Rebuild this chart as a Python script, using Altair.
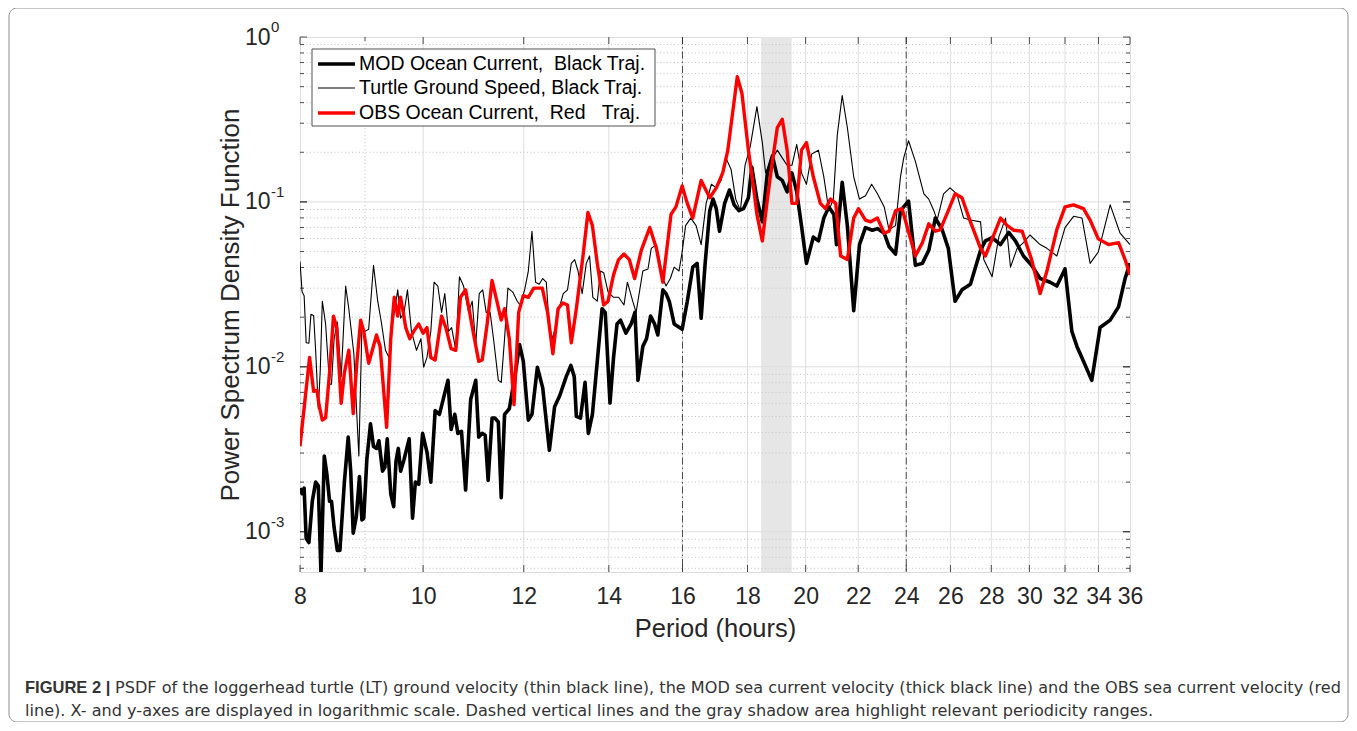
import altair as alt
import pandas as pd

# ---------------- data ----------------
red_period = [8.0, 8.14, 8.20, 8.25, 8.28, 8.33, 8.38, 8.44, 8.50, 8.55,
              8.62, 8.67, 8.74, 8.81, 8.87, 8.93, 8.98, 9.06, 9.12, 9.19,
              9.25, 9.36, 9.43, 9.49, 9.55, 9.60, 9.69, 9.76, 9.83, 9.92,
              10.0, 10.07, 10.14, 10.22, 10.34, 10.42, 10.52, 10.61, 10.70, 10.80,
              10.96, 11.06, 11.13, 11.23, 11.33, 11.43, 11.52, 11.59, 11.69, 11.79,
              11.89, 11.99, 12.10, 12.22, 12.41, 12.53, 12.65, 12.77, 12.88, 12.99,
              13.08, 13.20, 13.36, 13.48, 13.59, 13.71, 13.87, 13.98, 14.12, 14.25,
              14.39, 14.53, 14.67,
              14.85, 15.08, 15.26, 15.44, 15.67, 15.81, 15.99, 16.14, 16.30, 16.55,
              16.81, 17.01, 17.21, 17.37, 17.67, 17.82, 18.03, 18.20, 18.31, 18.49,
              18.66, 18.83, 19.00, 19.17, 19.34, 19.51, 19.68, 19.85, 20.03,
              20.28, 20.54, 20.73, 20.92, 21.12, 21.31, 21.57, 21.82, 22.01, 22.29,
              22.50, 22.78, 23.06, 23.26, 23.54, 23.82, 24.40, 24.71, 25.00, 25.30,
              25.53, 25.90, 26.22, 26.55, 26.96, 27.46,
              27.70, 28.47, 28.82, 29.17, 29.61, 30.12, 30.59, 30.97, 31.53, 32.00,
              32.50, 33.09, 33.49, 33.99, 34.62, 35.26, 35.68, 36.0]
red_value = [0.0033, 0.0114, 0.0071, 0.0072, 0.0059, 0.00475, 0.0049, 0.0092, 0.0203, 0.0173,
             0.0060, 0.0092, 0.0126, 0.0052, 0.0108, 0.0192, 0.0164, 0.0105, 0.0126, 0.0156,
             0.0133, 0.0043, 0.0148, 0.0264, 0.0203, 0.0264, 0.0173, 0.0148, 0.0164, 0.0182,
             0.016, 0.0173, 0.0114, 0.0110, 0.0203, 0.0173, 0.0129, 0.0126, 0.0264, 0.0293,
             0.0156, 0.0108, 0.0110, 0.0182, 0.0334, 0.025, 0.0192, 0.0225, 0.0148, 0.0059,
             0.0214, 0.027, 0.0264, 0.030, 0.030, 0.0214, 0.012, 0.0225, 0.0244, 0.0237,
             0.014, 0.0225, 0.047, 0.0863, 0.0718, 0.0424, 0.0237, 0.025, 0.0361, 0.0447,
             0.0483, 0.0447, 0.0343,
             0.051, 0.070, 0.0523, 0.0326, 0.084, 0.0933, 0.125, 0.098, 0.0798, 0.135,
             0.106, 0.1216, 0.150, 0.206, 0.575, 0.454, 0.206, 0.1216, 0.084, 0.058,
             0.1037, 0.176, 0.2825, 0.317, 0.206, 0.098, 0.098, 0.206, 0.229,
             0.142, 0.098, 0.091, 0.104, 0.098, 0.047, 0.0447, 0.0798, 0.091, 0.0776,
             0.0757, 0.0798, 0.0646, 0.0664, 0.0885, 0.091, 0.047, 0.0566, 0.0736, 0.0664,
             0.068, 0.0885, 0.112, 0.106, 0.0757, 0.0523,
             0.047, 0.0798, 0.0718, 0.0673, 0.0664, 0.0447, 0.0278, 0.0381, 0.068, 0.0933,
             0.096, 0.091, 0.0776, 0.0597, 0.0551, 0.0566, 0.0447, 0.0361]

mod_period = [8.0, 8.03, 8.06, 8.09, 8.13, 8.18, 8.23, 8.27, 8.31, 8.36,
              8.40, 8.44, 8.47, 8.51, 8.56, 8.60, 8.67, 8.73, 8.77, 8.81,
              8.86, 8.91, 8.95, 8.98, 9.03, 9.09, 9.14, 9.19, 9.23, 9.29,
              9.33, 9.37, 9.43, 9.48, 9.52, 9.56, 9.60, 9.66, 9.75, 9.81,
              9.86, 9.92, 9.99, 10.07, 10.14, 10.22, 10.30, 10.37, 10.46, 10.52,
              10.59, 10.65, 10.72, 10.80, 10.90,
              11.00, 11.06, 11.13, 11.19, 11.25, 11.33, 11.39, 11.46, 11.52, 11.59,
              11.69, 11.82, 11.91, 11.99, 12.10, 12.18, 12.30, 12.42, 12.57, 12.69,
              12.81, 12.96, 13.07, 13.15, 13.20, 13.30, 13.41, 13.49, 13.59, 13.71,
              13.83, 13.91, 14.03, 14.12, 14.21, 14.30, 14.44, 14.58, 14.68,
              14.76, 14.89, 14.99, 15.10, 15.21, 15.30, 15.44, 15.53, 15.62, 15.76,
              15.99, 16.14, 16.30, 16.43, 16.55, 16.67, 16.81, 16.91, 17.01, 17.11,
              17.27, 17.42, 17.57, 17.72, 17.87, 18.03, 18.14, 18.31, 18.49, 18.66,
              18.83, 19.00, 19.17, 19.34, 19.51, 19.68, 19.85, 20.03,
              20.28, 20.47, 20.67, 20.86, 21.05, 21.15, 21.37, 21.57, 21.82, 22.05,
              22.29, 22.57, 22.78, 23.06, 23.26, 23.54, 23.75, 24.10, 24.40, 24.71,
              25.00, 25.30, 25.61, 25.90, 26.22, 26.55, 26.96, 27.46,
              27.70, 28.04, 28.47, 28.90, 29.25, 29.68, 30.12, 30.59, 31.15, 31.53,
              32.00, 32.40, 32.70, 33.09, 33.59, 34.10, 34.73, 35.26, 35.68, 36.0]
mod_value = [0.00184, 0.0017, 0.00184, 0.00091, 0.00086, 0.00153, 0.0020, 0.0019, 0.00055, 0.00288,
             0.00222, 0.00153, 0.00153, 0.00106, 0.00077, 0.00077, 0.0020, 0.00375, 0.00233, 0.00098,
             0.00124, 0.00216, 0.00118, 0.00121, 0.00274, 0.00451, 0.00329, 0.0032, 0.00356, 0.00233,
             0.00246, 0.00366, 0.0017, 0.00142, 0.00267, 0.0032, 0.00233, 0.00274, 0.00366, 0.00121,
             0.0020, 0.00194, 0.00395, 0.00304, 0.0020, 0.00543, 0.00515, 0.00635, 0.00828, 0.00417,
             0.00515, 0.00395, 0.00406, 0.00179, 0.00635,
             0.00828, 0.00375, 0.00395, 0.00385, 0.00205, 0.00489, 0.00489, 0.00463, 0.00161, 0.00515,
             0.00557, 0.0092, 0.01365, 0.0108, 0.00475, 0.00515, 0.00995, 0.00745, 0.00312, 0.00572,
             0.0067, 0.00872, 0.0102, 0.00872, 0.00501, 0.00489, 0.00805, 0.00395, 0.00515, 0.0108,
             0.0225, 0.0214, 0.00603, 0.01135, 0.0182, 0.0192, 0.016, 0.0182, 0.0214,
             0.00828, 0.0133, 0.0148, 0.0203, 0.0182, 0.0156, 0.0293, 0.0278, 0.025, 0.0182,
             0.0169, 0.025, 0.0402, 0.0424, 0.0197, 0.0424, 0.0885, 0.104, 0.091, 0.0664,
             0.098, 0.118, 0.096, 0.0885, 0.091, 0.106, 0.1625, 0.104, 0.0757, 0.150,
             0.190, 0.142, 0.135, 0.115, 0.150, 0.115, 0.0718, 0.0424,
             0.0612, 0.058, 0.0798, 0.0933, 0.084, 0.0551, 0.1315, 0.0718, 0.0219, 0.0551,
             0.0698, 0.0673, 0.0689, 0.0646, 0.0537, 0.0483, 0.0885, 0.101, 0.0413, 0.0424,
             0.0509, 0.0798, 0.068, 0.0523, 0.025, 0.0293, 0.0317, 0.0509,
             0.058, 0.0607, 0.0551, 0.0653, 0.058, 0.047, 0.0413, 0.0343, 0.0326, 0.0309,
             0.0392, 0.0164, 0.0133, 0.0108, 0.00828, 0.0173, 0.0192, 0.0231, 0.0343, 0.0424]

turtle_period = [8.0, 8.03, 8.06, 8.09, 8.13, 8.16, 8.20, 8.23, 8.27, 8.30,
                 8.33, 8.38, 8.44, 8.47, 8.51, 8.56, 8.62, 8.69, 8.74, 8.82,
                 8.90, 8.95, 9.00, 9.06, 9.14, 9.21, 9.27, 9.34, 9.40, 9.46,
                 9.55, 9.60, 9.66, 9.72, 9.79, 9.88, 9.96, 10.01, 10.07, 10.14,
                 10.20, 10.27, 10.34, 10.40, 10.47, 10.53, 10.61, 10.68, 10.76, 10.86,
                 10.93, 11.00, 11.07, 11.14, 11.21, 11.29, 11.36, 11.46, 11.52, 11.59,
                 11.66, 11.76, 11.86, 11.92, 12.02, 12.10, 12.18, 12.26, 12.34, 12.42,
                 12.50, 12.57, 12.65, 12.77, 12.89, 12.99, 13.08, 13.16, 13.24, 13.34,
                 13.44, 13.52, 13.60, 13.71, 13.79, 13.87, 13.98, 14.12, 14.25, 14.39,
                 14.48, 14.62, 14.71,
                 14.89, 15.03, 15.12, 15.26, 15.35, 15.44, 15.53, 15.65, 15.76, 15.90,
                 15.99, 16.09, 16.24, 16.40, 16.55, 16.70, 16.86, 17.01, 17.16, 17.31,
                 17.47, 17.62, 17.77, 17.92, 18.09, 18.31, 18.49, 18.60, 18.77, 19.00,
                 19.17, 19.34, 19.51, 19.68, 19.85, 20.03,
                 20.22, 20.47, 20.67, 20.86, 21.03, 21.18, 21.37, 21.57, 21.82, 22.05,
                 22.29, 22.54, 22.78, 23.06, 23.26, 23.54, 23.75, 23.89, 24.10, 24.40,
                 24.78, 25.00, 25.23, 25.38, 25.68, 25.98, 26.30, 26.63, 26.96, 27.46,
                 27.62, 28.04, 28.38, 28.73, 28.99, 29.34, 29.68, 30.03, 30.59, 30.97,
                 31.53, 32.00, 32.50, 33.00, 33.49, 33.99, 34.73, 35.36, 36.0]
turtle_value = [0.0435, 0.0285, 0.027, 0.014, 0.0139, 0.0208, 0.0205, 0.0126, 0.00557, 0.0097,
                0.025, 0.0182, 0.00785, 0.00785, 0.0148, 0.0187, 0.00872, 0.0309, 0.0225, 0.012,
                0.00288, 0.0173, 0.0164, 0.0169, 0.0413, 0.025, 0.0187, 0.0126, 0.0114, 0.0182,
                0.0293, 0.0197, 0.0214, 0.0293, 0.0164, 0.0126, 0.0148, 0.00995, 0.0114, 0.0164,
                0.0326, 0.0309, 0.0214, 0.0278, 0.0164, 0.0173, 0.0126, 0.0352, 0.0309, 0.0214,
                0.025, 0.01365, 0.0278, 0.0293, 0.0214, 0.0214, 0.0148, 0.00828, 0.00805, 0.0148,
                0.030, 0.0285, 0.025, 0.0237, 0.0293, 0.0381, 0.0664, 0.0326, 0.0317, 0.0343,
                0.0326, 0.0173, 0.0148, 0.0214, 0.0278, 0.0293, 0.0424, 0.0447, 0.0381, 0.0278,
                0.0424, 0.047, 0.0264, 0.025, 0.0381, 0.0372, 0.0285, 0.0264, 0.0264, 0.0237,
                0.0326, 0.025, 0.0214,
                0.0381, 0.0392, 0.0523, 0.0551, 0.0447, 0.0343, 0.0309, 0.0343, 0.0402, 0.0381,
                0.0497, 0.0718, 0.0798, 0.0718, 0.0551, 0.098, 0.128, 0.1216, 0.135, 0.185,
                0.158, 0.104, 0.0885, 0.1667, 0.217, 0.378, 0.229, 0.150, 0.176, 0.206,
                0.185, 0.1667, 0.1667, 0.223, 0.150, 0.128,
                0.195, 0.206, 0.142, 0.0885, 0.104, 0.254, 0.442, 0.2825, 0.142, 0.104,
                0.109, 0.128, 0.112, 0.0933, 0.068, 0.0718, 0.142, 0.185, 0.235, 0.176,
                0.112, 0.104, 0.0885, 0.0776, 0.112, 0.1216, 0.112, 0.0798, 0.0776, 0.0757,
                0.0447, 0.0352, 0.0612, 0.0798, 0.0402, 0.0523, 0.0566, 0.063, 0.0551, 0.0523,
                0.047, 0.0698, 0.0818, 0.0798, 0.0424, 0.0497, 0.096, 0.0646, 0.0551]

x_ticks = [8, 10, 12, 14, 16, 18, 20, 22, 24, 26, 28, 30, 32, 34, 36]
x_grid_major = [10, 12, 14, 16, 18, 20, 22, 24, 26, 28, 30, 32, 34]
x_grid_minor = [9]
y_ticks = [1, 0.1, 0.01, 0.001]
y_exps = ["0", "-1", "-2", "-3"]
y_grid_major = [0.001, 0.01, 0.1]
y_grid_minor = [6e-4, 7e-4, 8e-4, 9e-4,
                0.002, 0.003, 0.004, 0.005, 0.006, 0.007, 0.008, 0.009,
                0.02, 0.03, 0.04, 0.05, 0.06, 0.07, 0.08, 0.09,
                0.2, 0.3, 0.4, 0.5, 0.6, 0.7, 0.8, 0.9]
marker_periods = [16, 24]
band_lo, band_hi = [18.45], [19.5]

legend_labels = ["MOD Ocean Current,\u00a0\u00a0Black Traj.",
                 "Turtle Ground Speed, Black Traj.",
                 "OBS Ocean Current,\u00a0\u00a0Red\u00a0\u00a0\u00a0Traj."]
caption_bold = "FIGURE 2 |"
caption_1 = ("PSDF of the loggerhead turtle (LT) ground velocity (thin black line), the MOD sea "
             "current velocity (thick black line) and the OBS sea current velocity (red")
caption_2 = ("line). X- and y-axes are displayed in logarithmic scale. Dashed vertical lines and "
             "the gray shadow area highlight relevant periodicity ranges.")

# ---------------- chart ----------------
W, H = 830, 535
FONT = "Liberation Sans"
INK = "#262626"

xs = alt.Scale(type="log", domain=[8, 36], nice=False)
ys = alt.Scale(type="log", domain=[5.7e-4, 1], nice=False)

x_axis = alt.Axis(values=x_ticks, format="d", title="Period (hours)", grid=False, ticks=False,
                  domain=False, labelFont=FONT, labelFontSize=23, labelColor=INK, labelPadding=13,
                  labelFlush=False, labelOverlap=False, labelBound=False,
                  titleFont=FONT, titleFontSize=25.5, titleFontWeight="normal", titleColor=INK,
                  titleX=W / 2, titleY=56, titleAlign="center", titleBaseline="middle")
y_axis = alt.Axis(values=y_ticks, labelExpr="'10'", title="Power Spectrum Density Function",
                  grid=False, ticks=False, domain=False, labelFont=FONT, labelFontSize=23,
                  labelColor=INK, labelPadding=30, labelFlush=False, labelOverlap=False,
                  titleFont=FONT, titleFontSize=26, titleFontWeight="normal", titleColor=INK,
                  titleX=-70, titleY=H / 2, titleAngle=270, titleAlign="center",
                  titleBaseline="middle")

one = pd.DataFrame({"k": [0]})

frame = alt.Chart(one).mark_rect(fill="white", fillOpacity=0, stroke="#8c8c8c", strokeWidth=1,
                                 cornerRadius=8).encode(
    x=alt.value(-291), x2=alt.value(1048), y=alt.value(-29), y2=alt.value(685))

band = alt.Chart(pd.DataFrame({"lo": band_lo, "hi": band_hi})).mark_rect(color="#e6e6e6").encode(
    x=alt.X("lo:Q", scale=xs, axis=x_axis), x2="hi:Q")

ygrid_minor = alt.Chart(pd.DataFrame({"v": y_grid_minor})).mark_rule(
    color="#c4c4c4", strokeWidth=1, strokeDash=[1, 2.5]).encode(y=alt.Y("v:Q", scale=ys, axis=y_axis))
ygrid_major = alt.Chart(pd.DataFrame({"v": y_grid_major})).mark_rule(
    color="#dedede", strokeWidth=1).encode(y=alt.Y("v:Q", scale=ys, axis=y_axis))
xgrid_minor = alt.Chart(pd.DataFrame({"v": x_grid_minor})).mark_rule(
    color="#c4c4c4", strokeWidth=1, strokeDash=[1, 2.5]).encode(x=alt.X("v:Q", scale=xs, axis=x_axis))
xgrid_major = alt.Chart(pd.DataFrame({"v": x_grid_major})).mark_rule(
    color="#dedede", strokeWidth=1).encode(x=alt.X("v:Q", scale=xs, axis=x_axis))
markers = alt.Chart(pd.DataFrame({"v": marker_periods})).mark_rule(
    color="#4d4d4d", strokeWidth=1, strokeDash=[7, 3, 1.5, 3]).encode(
    x=alt.X("v:Q", scale=xs, axis=x_axis))

# inward tick marks on all four sides of the box (MATLAB style)
tick_layers = []
for vals, ln in ((y_grid_major + y_ticks, 7), (y_grid_minor, 4)):
    d = pd.DataFrame({"v": vals})
    for a, b in ((0, ln), (W, W - ln)):
        tick_layers.append(alt.Chart(d).mark_rule(color=INK, strokeWidth=0.8).encode(
            y=alt.Y("v:Q", scale=ys, axis=y_axis), x=alt.value(a), x2=alt.value(b)))
for vals, ln in ((x_ticks, 7), (x_grid_minor, 4)):
    d = pd.DataFrame({"v": vals})
    for a, b in ((H, H - ln), (0, ln)):
        tick_layers.append(alt.Chart(d).mark_rule(color=INK, strokeWidth=0.8).encode(
            x=alt.X("v:Q", scale=xs, axis=x_axis), y=alt.value(a), y2=alt.value(b)))


def series(periods, values):
    return pd.DataFrame({"period": periods, "psd": values})


turtle = alt.Chart(series(turtle_period, turtle_value)).mark_line(
    color="#000000", strokeWidth=1.1, clip=True, strokeJoin="round").encode(
    x=alt.X("period:Q", scale=xs, axis=x_axis), y=alt.Y("psd:Q", scale=ys, axis=y_axis))
mod = alt.Chart(series(mod_period, mod_value)).mark_line(
    color="#000000", strokeWidth=3.6, clip=True, strokeJoin="round").encode(
    x=alt.X("period:Q", scale=xs, axis=x_axis), y=alt.Y("psd:Q", scale=ys, axis=y_axis))
obs = alt.Chart(series(red_period, red_value)).mark_line(
    color="#ff0000", strokeWidth=3.4, clip=True, strokeJoin="round").encode(
    x=alt.X("period:Q", scale=xs, axis=x_axis), y=alt.Y("psd:Q", scale=ys, axis=y_axis))

exps = alt.Chart(pd.DataFrame({"v": y_ticks, "e": y_exps})).mark_text(
    align="left", baseline="middle", dy=-10, font=FONT, fontSize=15, color=INK).encode(
    x=alt.value(-29), y=alt.Y("v:Q", scale=ys, axis=y_axis), text="e:N")

# legend box (drawn as in the figure)
leg_box = alt.Chart(one).mark_rect(fill="white", stroke="#262626", strokeWidth=0.8).encode(
    x=alt.value(12), x2=alt.value(355), y=alt.value(12), y2=alt.value(89))
leg_rows = [27, 51, 76]
leg_styles = [("#000000", 3.6), ("#000000", 1.1), ("#ff0000", 3.4)]
leg_layers = []
for lab, yy, (col, sw) in zip(legend_labels, leg_rows, leg_styles):
    leg_layers.append(alt.Chart(one).mark_rule(color=col, strokeWidth=sw).encode(
        x=alt.value(18), x2=alt.value(55), y=alt.value(yy)))
    leg_layers.append(alt.Chart(pd.DataFrame({"t": [lab]})).mark_text(
        align="left", baseline="middle", font=FONT, fontSize=19.5, color="#000000").encode(
        x=alt.value(59), y=alt.value(yy), text="t:N"))

cap_b = alt.Chart(pd.DataFrame({"t": [caption_bold]})).mark_text(
    align="left", baseline="middle", font=FONT, fontSize=16.5, fontWeight="bold", color="#333333").encode(
    x=alt.value(-275), y=alt.value(651), text="t:N")
cap_1 = alt.Chart(pd.DataFrame({"t": [caption_1]})).mark_text(
    align="left", baseline="middle", font="DejaVu Sans", fontSize=16.1, color="#333333").encode(
    x=alt.value(-185), y=alt.value(651), text="t:N")
cap_2 = alt.Chart(pd.DataFrame({"t": [caption_2]})).mark_text(
    align="left", baseline="middle", font="DejaVu Sans", fontSize=16.1, color="#333333").encode(
    x=alt.value(-275), y=alt.value(674), text="t:N")

chart = alt.layer(
    frame, band, ygrid_minor, xgrid_minor, ygrid_major, xgrid_major, markers, *tick_layers,
    turtle, mod, obs, exps, leg_box, *leg_layers, cap_b, cap_1, cap_2
).properties(
    width=W, height=H,
    autosize=alt.AutoSizeParams(type="none"),
    padding={"left": 292, "top": 29, "right": 219, "bottom": 150},
).configure_view(stroke="#555555", strokeWidth=1).configure(background="white")

chart.save("out.html", embed_options={"renderer": "svg", "actions": False})
